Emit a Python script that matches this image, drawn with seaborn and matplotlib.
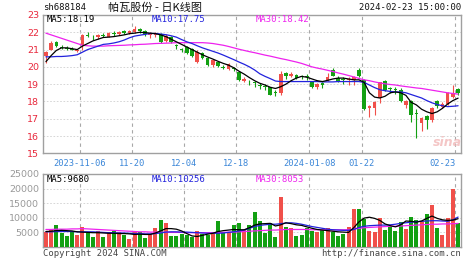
import numpy as np
import pandas as pd
import matplotlib
matplotlib.use("Agg")
import matplotlib.pyplot as plt
import seaborn as sns

# ---- daily bars: sh688184, 2023-10-26 .. 2024-02-23 ----
opens = [20.60, 21.00, 21.45, 21.15, 21.10, 21.05, 20.90, 21.25, 21.85, 21.75,
         21.70, 21.85, 21.75, 21.95, 21.90, 22.10, 21.95, 22.00, 22.20, 22.10,
         21.85, 21.85, 21.90, 21.50, 21.75, 21.25, 21.05, 21.15, 21.05, 20.30,
         20.80, 20.50, 20.10, 20.30, 20.00, 19.85, 19.95, 19.70, 19.20, 19.15,
         19.10, 18.95, 18.88, 18.82, 18.55, 18.50, 19.65, 19.50, 19.55, 19.45,
         19.45, 19.10, 18.85, 19.05, 19.25, 19.80, 19.35, 19.30, 19.25, 19.23,
         19.80, 19.25, 17.60, 17.60, 18.20, 19.20, 18.75, 18.72, 18.65, 17.80,
         18.05, 17.35, 16.75, 17.15, 16.90, 18.05, 17.70, 17.85, 18.25, 18.70]
highs = [20.90, 21.50, 21.50, 21.25, 21.20, 21.15, 21.05, 21.90, 22.00, 21.85,
         21.90, 21.95, 22.00, 22.05, 22.10, 22.15, 22.15, 22.35, 22.25, 22.15,
         22.00, 22.00, 21.95, 21.90, 21.80, 21.30, 21.10, 21.20, 21.10, 20.95,
         20.85, 20.55, 20.45, 20.35, 20.10, 20.20, 20.00, 19.75, 19.40, 19.25,
         19.20, 19.05, 19.00, 18.85, 18.65, 19.75, 19.70, 19.70, 19.60, 19.55,
         19.60, 19.15, 19.05, 19.15, 19.65, 19.95, 19.45, 19.40, 19.40, 19.45,
         19.95, 19.30, 17.80, 18.00, 19.15, 19.25, 18.85, 18.85, 18.80, 18.10,
         18.10, 17.55, 17.10, 17.20, 17.70, 18.10, 17.95, 18.55, 18.95, 18.75]
lows = [20.20, 20.95, 21.15, 21.05, 21.00, 20.95, 20.85, 20.95, 21.70, 21.55,
        21.60, 21.70, 21.70, 21.80, 21.85, 21.90, 21.90, 21.95, 21.95, 21.80,
        21.65, 21.75, 21.40, 21.45, 21.40, 21.05, 20.85, 20.75, 20.55, 20.20,
        20.45, 20.05, 20.00, 20.00, 19.85, 19.80, 19.75, 19.20, 19.10, 18.95,
        18.85, 18.70, 18.65, 18.35, 18.30, 18.35, 19.30, 19.40, 19.30, 19.30,
        19.25, 18.80, 18.70, 18.80, 19.20, 19.45, 19.15, 19.00, 18.95, 18.95,
        19.40, 17.50, 17.10, 17.20, 17.90, 18.60, 18.50, 18.45, 17.95, 17.60,
        16.80, 15.90, 16.30, 16.40, 16.80, 17.60, 17.60, 17.80, 18.20, 18.40]
closes = [20.85, 21.40, 21.20, 21.10, 21.05, 21.00, 21.00, 21.85, 21.80, 21.70,
          21.85, 21.80, 21.95, 21.90, 22.00, 21.95, 22.05, 22.20, 22.05, 21.90,
          21.95, 21.90, 21.45, 21.80, 21.45, 21.20, 21.00, 20.80, 20.60, 20.85,
          20.50, 20.10, 20.40, 20.05, 19.95, 20.15, 19.85, 19.25, 19.30, 19.10,
          19.05, 18.90, 18.83, 18.40, 18.50, 19.60, 19.50, 19.60, 19.35, 19.40,
          19.40, 18.85, 19.00, 18.95, 19.42, 19.50, 19.20, 19.25, 19.32, 19.40,
          19.50, 17.55, 17.75, 17.95, 19.10, 18.65, 18.70, 18.68, 18.00, 18.05,
          17.20, 17.25, 17.05, 16.90, 17.60, 17.75, 17.85, 18.50, 18.50, 18.50]

ma5 = [20.30, 20.65, 20.95, 21.10, 21.10, 21.05, 21.00, 21.20, 21.35, 21.50,
       21.60, 21.70, 21.72, 21.75, 21.80, 21.85, 21.92, 21.95, 22.00, 21.98,
       21.95, 21.92, 21.85, 21.75, 21.60, 21.45, 21.30, 21.15, 21.00, 20.85,
       20.70, 20.57, 20.45, 20.32, 20.20, 20.10, 19.95, 19.75, 19.58, 19.38,
       19.20, 19.05, 18.95, 18.82, 18.75, 18.85, 19.00, 19.20, 19.35, 19.45,
       19.40, 19.30, 19.20, 19.15, 19.22, 19.30, 19.35, 19.35, 19.30, 19.25,
       19.25, 19.10, 18.50, 18.25, 18.20, 18.30, 18.50, 18.55, 18.50, 18.35,
       17.95, 17.80, 17.55, 17.40, 17.30, 17.40, 17.60, 17.85, 18.05, 18.19]
ma10 = [20.58, 20.58, 20.60, 20.60, 20.62, 20.65, 20.70, 20.85, 21.00, 21.10,
        21.20, 21.30, 21.33, 21.38, 21.45, 21.55, 21.68, 21.78, 21.83, 21.88,
        21.93, 21.93, 21.90, 21.86, 21.80, 21.72, 21.58, 21.45, 21.35, 21.22,
        21.10, 21.00, 20.90, 20.80, 20.68, 20.55, 20.42, 20.28, 20.15, 20.00,
        19.82, 19.60, 19.45, 19.32, 19.18, 19.15, 19.15, 19.15, 19.15, 19.15,
        19.15, 19.15, 19.15, 19.13, 19.13, 19.13, 19.15, 19.15, 19.15, 19.15,
        19.15, 19.10, 18.95, 18.80, 18.68, 18.62, 18.58, 18.55, 18.55, 18.50,
        18.40, 18.30, 18.20, 18.05, 17.92, 17.82, 17.75, 17.70, 17.72, 17.75]
ma30 = [21.95, 21.85, 21.75, 21.65, 21.55, 21.45, 21.35, 21.25, 21.22, 21.20,
        21.20, 21.20, 21.22, 21.23, 21.24, 21.25, 21.27, 21.28, 21.30, 21.31,
        21.33, 21.35, 21.36, 21.37, 21.38, 21.40, 21.40, 21.40, 21.40, 21.40,
        21.40, 21.38, 21.35, 21.30, 21.25, 21.18, 21.10, 21.02, 20.95, 20.88,
        20.82, 20.75, 20.68, 20.62, 20.55, 20.48, 20.42, 20.35, 20.28, 20.20,
        20.10, 20.00, 19.93, 19.87, 19.80, 19.73, 19.65, 19.58, 19.50, 19.42,
        19.33, 19.25, 19.20, 19.13, 19.07, 19.02, 18.98, 18.95, 18.90, 18.86,
        18.82, 18.78, 18.75, 18.70, 18.65, 18.60, 18.55, 18.50, 18.46, 18.42]

volumes = [5240, 5800, 7530, 4680, 3880, 5480, 4110, 6740, 4680, 3540,
           5590, 3540, 5020, 5590, 5020, 4110, 2740, 5590, 5020, 2970,
           4340, 6390, 9250, 8100, 3770, 3880, 4450, 4000, 3300, 5500,
           4300, 4000, 5000, 8800, 4700, 5000, 7600, 8100, 5800, 7530,
           12100, 9020, 4680, 8100, 3540, 17000, 6960, 6390, 3770, 4110,
           6390, 5590, 5240, 5800, 6390, 5240, 3770, 4450, 6740, 13000,
           13000, 9700, 5590, 5240, 10000, 5800, 6960, 5590, 8500, 6040,
           10400, 9300, 8800, 11200, 14460, 6390, 4110, 9800, 20000, 8100]
vol_ma5 = [5300, 5400, 5600, 5700, 5600, 5500, 5200, 5100, 5000, 4900,
           4900, 4800, 4700, 4700, 4600, 4600, 4500, 4300, 4400, 4300,
           4300, 4800, 5500, 6300, 6300, 6100, 5500, 4600, 3800, 3600,
           4000, 4400, 4700, 5300, 5600, 5800, 6000, 5900, 5900, 6600,
           7500, 7900, 8000, 8100, 7200, 7600, 8300, 8000, 7600, 7400,
           6900, 6400, 6000, 5800, 5600, 5400, 5200, 5100, 5000, 6600,
           8600, 9900, 10200, 9800, 9100, 7900, 7300, 6900, 7600, 8900,
           8800, 8500, 8900, 9800, 10600, 9800, 9300, 9100, 9200, 9680]
vol_ma10 = [5200, 5200, 5300, 5300, 5300, 5300, 5200, 5200, 5200, 5200,
            5100, 5000, 4900, 4900, 4800, 4800, 4700, 4600, 4600, 4500,
            4500, 4600, 4800, 5100, 5200, 5200, 5100, 5100, 5000, 4900,
            4800, 4700, 4700, 4700, 4800, 5000, 5200, 5500, 5800, 6400,
            7000, 7400, 7600, 7800, 7800, 8000, 8200, 8300, 8100, 7800,
            7400, 7000, 6700, 6400, 6100, 5900, 5800, 5700, 5700, 6000,
            6700, 7100, 7300, 7400, 7500, 7500, 7600, 7800, 8100, 8300,
            8500, 8700, 8800, 8900, 9000, 9000, 8900, 8800, 9300, 10256]
vol_ma30 = [6000, 6000, 6100, 6100, 6100, 6200, 6200, 6300, 6200, 6100,
            6000, 5900, 5800, 5700, 5600, 5500, 5400, 5300, 5200, 5200,
            5100, 5100, 5100, 5100, 5000, 5000, 5000, 4900, 4900, 4900,
            4900, 4900, 4900, 5000, 5000, 5100, 5100, 5200, 5300, 5400,
            5500, 5600, 5700, 5800, 5800, 5900, 6000, 6000, 6000, 6000,
            6000, 5900, 5900, 5900, 5900, 5900, 5900, 5900, 5900, 6100,
            6400, 6600, 6700, 6800, 6900, 7000, 7100, 7100, 7200, 7300,
            7400, 7500, 7600, 7700, 7800, 7800, 7900, 7900, 8000, 8053]

tick_dates = ["2023-11-06", "2023-11-20", "2023-12-04", "2023-12-18",
              "2024-01-08", "2024-01-22", "2024-02-23"]
tick_labels = ["2023-11-06", "11-20", "12-04", "12-18", "2024-01-08", "01-22", "02-23"]
price_ticks = [15, 16, 17, 18, 19, 20, 21, 22, 23]
volume_ticks = [5000, 10000, 15000, 20000, 25000]

# ---- trading calendar ----
holidays = pd.to_datetime(["2024-01-01", "2024-02-09", "2024-02-12", "2024-02-13",
                           "2024-02-14", "2024-02-15", "2024-02-16"])
days = pd.bdate_range("2023-10-26", "2024-02-23")
days = days[~days.isin(holidays)]

df = pd.DataFrame({"date": days, "open": opens, "high": highs, "low": lows,
                   "close": closes, "vol": volumes})
df["i"] = np.arange(len(df))
df["dir"] = np.where(df["close"] >= df["open"], "up", "down")

UP, DOWN = "#f0504a", "#12a012"
C_MA5, C_MA10, C_MA30 = "#000000", "#2222dd", "#ee22ee"

sns.set_style("white")
plt.rcParams["font.family"] = ["DejaVu Sans Mono", "Noto Sans CJK SC"]

W, H = 474, 260
fig = plt.figure(figsize=(W / 100, H / 100), dpi=100)


def fx(x):
    return x / W


def fy(y):
    return 1 - y / H


ax = fig.add_axes([fx(43.3), fy(153.3), fx(460.7) - fx(43.3), fy(15) - fy(153.3)])
axv = fig.add_axes([fx(43.3), fy(247), fx(460.7) - fx(43.3), fy(174) - fy(247)])

tick_pos = [days.get_loc(pd.Timestamp(d)) - 0.5 for d in tick_dates]

for a in (ax, axv):
    for s in a.spines.values():
        s.set_color("#a0a0a0")
        s.set_linewidth(1.0)
    a.set_facecolor("white")
    a.set_xlim(-0.5, len(df) - 0.5)
    for p in tick_pos:
        a.axvline(p, color="#a8a8a8", lw=0.8, ls=(0, (3, 3)), zorder=1)
    a.tick_params(length=0, pad=3)

# ---- price panel ----
for yv in price_ticks[1:-1]:
    ax.axhline(yv, color="#d0d0d0", lw=0.6, ls=(0, (2, 2)), zorder=1)

colors = np.where(df["dir"] == "up", UP, DOWN)
ax.vlines(df["i"], df["low"], df["high"], colors=colors, lw=0.8, zorder=3)
body_lo = np.minimum(df["open"], df["close"])
body_h = np.maximum(np.abs(df["close"] - df["open"]), 0.03)
ax.bar(df["i"], body_h, bottom=body_lo, width=0.7, color=colors, lw=0, zorder=3)

sns.lineplot(x=df["i"], y=ma30, ax=ax, color=C_MA30, lw=0.9, zorder=4)
sns.lineplot(x=df["i"], y=ma10, ax=ax, color=C_MA10, lw=0.9, zorder=4)
sns.lineplot(x=df["i"], y=ma5, ax=ax, color=C_MA5, lw=0.9, zorder=5)

ax.set_ylim(15, 23)
ax.set_yticks(price_ticks)
ax.set_yticklabels([str(t) for t in price_ticks], color="#e8283c",
                   fontsize=6.8, family="DejaVu Sans")
ax.set_xticks(tick_pos)
ax.set_xticklabels(tick_labels, color="#3a86d8", fontsize=6.3)
ax.get_xticklabels()[-1].set_horizontalalignment("right")
ax.tick_params(axis="x", pad=4)
ax.set_xlabel("")
ax.set_ylabel("")
ax.set_xlim(-0.5, len(df) - 0.5)

# ---- volume panel ----
sns.barplot(data=df, x="i", y="vol", hue="dir", palette={"up": UP, "down": DOWN},
            dodge=False, native_scale=True, width=0.76, errorbar=None,
            saturation=1, linewidth=0, legend=False, ax=axv, zorder=3)
for yv in volume_ticks[:-1]:
    axv.axhline(yv, color="#d0d0d0", lw=0.6, ls=(0, (2, 2)), zorder=1)
sns.lineplot(x=df["i"], y=vol_ma30, ax=axv, color=C_MA30, lw=0.9, zorder=4)
sns.lineplot(x=df["i"], y=vol_ma10, ax=axv, color=C_MA10, lw=0.9, zorder=4)
sns.lineplot(x=df["i"], y=vol_ma5, ax=axv, color=C_MA5, lw=0.9, zorder=5)
axv.set_ylim(0, 25000)
axv.set_yticks(volume_ticks)
axv.set_yticklabels([str(t) for t in volume_ticks], color="#999999",
                    fontsize=6.8, family="DejaVu Sans")
axv.set_xticks(tick_pos)
axv.set_xticklabels([])
axv.set_xlabel("")
axv.set_ylabel("")
axv.set_xlim(-0.5, len(df) - 0.5)

# ---- header, legends, footer ----
mono = dict(fontsize=6.4, va="center")
fig.text(fx(43), fy(8), "sh688184", ha="left", color="#111111", **mono)
fig.text(fx(155), fy(8), "帕瓦股份 - 日K线图", ha="center", va="center",
         fontsize=8, color="#111111", family=["Noto Sans CJK SC", "DejaVu Sans"])
fig.text(fx(461), fy(8), "2024-02-23 15:00:00", ha="right", color="#111111", **mono)

fig.text(fx(47), fy(20), f"MA5:{ma5[-1]:.2f}", ha="left", color=C_MA5, **mono)
fig.text(fx(152), fy(20), f"MA10:{ma10[-1]:.2f}", ha="left", color=C_MA10, **mono)
fig.text(fx(256), fy(20), f"MA30:{ma30[-1]:.2f}", ha="left", color=C_MA30, **mono)

fig.text(fx(47), fy(179), f"MA5:{vol_ma5[-1]}", ha="left", color=C_MA5, **mono)
fig.text(fx(152), fy(179), f"MA10:{vol_ma10[-1]}", ha="left", color=C_MA10, **mono)
fig.text(fx(256), fy(179), f"MA30:{vol_ma30[-1]}", ha="left", color=C_MA30, **mono)

fig.text(fx(43), fy(253.5), "Copyright 2024 SINA.COM", ha="left", color="#444444", **mono)
fig.text(fx(461), fy(253.5), "http://finance.sina.com.cn", ha="right", color="#444444", **mono)

# faint watermark
fig.text(fx(447), fy(143), "sina", ha="center", va="center", fontsize=9,
         style="italic", weight="bold", color="#f2b8b8", alpha=0.8,
         family="DejaVu Sans")

fig.savefig("out.png", dpi=100, facecolor="white")
